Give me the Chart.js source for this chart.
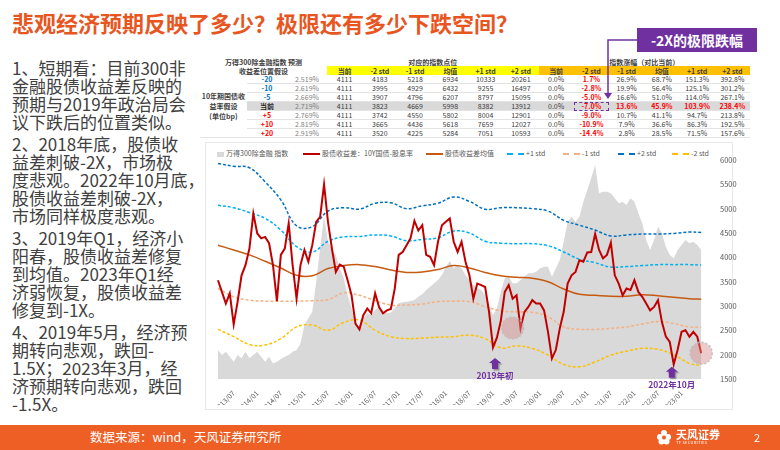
<!DOCTYPE html>
<html>
<head>
<meta charset="utf-8">
<script src="https://cdn.jsdelivr.net/npm/chart.js@4.4.0/dist/chart.umd.min.js"></script>
<style>
body{margin:0;width:780px;height:450px;position:relative;overflow:hidden;background:#fff;font-family:"Noto Sans CJK SC","Noto Sans",sans-serif;}
.title{position:absolute;left:12px;top:9px;font-size:22px;line-height:26px;font-weight:bold;color:#E8561F;white-space:nowrap;}
.notes{position:absolute;left:12px;top:59px;font-size:17px;line-height:18px;color:#404040;white-space:nowrap;}
.notes p{margin:0 0 4px 0;}
#tbl{position:absolute;left:200px;top:57px;border-collapse:collapse;table-layout:fixed;font-size:7px;line-height:8px;color:#404040;}
#tbl td{padding:0;text-align:center;white-space:nowrap;overflow:visible;border-bottom:1px solid #E4E4E4;}
#tbl tr.h td{height:9px;font-weight:bold;border-bottom:none;}
#tbl tr.d td{height:7px;}
.yl{background:#FFFF00;}
.og{background:#FFC000;}
tr.cur td{background:#D9D9D9;}
.redb{color:#FF0000;font-weight:bold;}
.callout{position:absolute;left:637px;top:28px;width:120px;height:24px;background:#7030A0;color:#fff;font-size:14px;line-height:24px;font-weight:bold;text-align:center;}
.frame{position:absolute;left:205px;top:142px;width:528px;height:268px;border:1px solid #E8E8E8;box-sizing:border-box;}
.lg{position:absolute;top:148px;font-size:7px;line-height:10px;color:#595959;white-space:nowrap;}
.mk{display:inline-block;vertical-align:middle;margin-right:2px;}
#wrap{position:absolute;left:205px;top:140px;width:555px;height:265px;}
.foot{position:absolute;left:0;top:425px;width:780px;height:25px;background:#EE5F26;}
.src{position:absolute;left:90px;top:428px;font-size:12.5px;line-height:18px;color:#fff;white-space:nowrap;}
.logo{position:absolute;left:676px;top:428px;color:#fff;font-size:11px;font-weight:bold;line-height:12px;white-space:nowrap;}
.logo small{display:block;font-size:4px;line-height:5px;font-weight:normal;letter-spacing:0.3px;}
.pg{position:absolute;left:754px;top:429px;font-size:11px;line-height:16px;color:#fff;}
svg.ov{position:absolute;left:0;top:0;}
</style>
</head>
<body>
<div class="title">悲观经济预期反映了多少？极限还有多少下跌空间？</div>

<div class="notes">
<p>1、短期看：目前300非<br>金融股债收益差反映的<br>预期与2019年政治局会<br>议下跌后的位置类似。</p>
<p>2、2018年底，股债收<br>益差刺破-2X，市场极<br>度悲观。2022年10月底，<br>股债收益差刺破-2X，<br>市场同样极度悲观。</p>
<p>3、2019年Q1，经济小<br>阳春，股债收益差修复<br>到均值。2023年Q1经<br>济弱恢复，股债收益差<br>修复到-1X。</p>
<p>4、2019年5月，经济预<br>期转向悲观，跌回-<br>1.5X；2023年3月，经<br>济预期转向悲观，跌回<br>-1.5X。</p>
</div>

<table id="tbl"></table>
<div class="callout">-2X的极限跌幅</div>

<div class="frame"></div>
<div id="legend"></div>
<div id="wrap"><canvas id="c" width="555" height="265"></canvas></div>

<div class="foot"></div>
<div class="src">数据来源：wind，天风证券研究所</div>
<svg class="ov" width="780" height="450">
  <polyline points="637,40 608,40 608,95" fill="none" stroke="#7030A0" stroke-width="1.5"/>
  <path d="M604,93 L612,93 L608,99 z" fill="#7030A0"/>
  <g transform="translate(664,437)">
    <circle cx="0" cy="-4" r="3" fill="#fff"/><circle cx="-4" cy="0" r="3" fill="#fff"/>
    <circle cx="4" cy="0" r="3" fill="#fff"/><circle cx="-2.5" cy="4.5" r="3" fill="#fff"/>
    <circle cx="2.5" cy="4.5" r="3" fill="#fff"/><circle cx="0" cy="0.5" r="2" fill="#EE5F26"/>
  </g>
</svg>
<div class="logo">天风证券<small>TF SECURITIES</small></div>
<div class="pg">2</div>

<script>
// ---- table data ----
const bpSteps = ['-20', '-10', '-5', '当前', '+5', '+10', '+20'];
const bondYields = ['2.519%', '2.619%', '2.669%', '2.719%', '2.769%', '2.819%', '2.919%'];
const colNames = ['当前', '-2 std', '-1 std', '均值', '+1 std', '+2 std'];
const indexPoints = [
  [4111, 4183, 5218, 6934, 10333, 20261],
  [4111, 3995, 4929, 6432, 9255, 16497],
  [4111, 3907, 4796, 6207, 8797, 15095],
  [4111, 3823, 4669, 5998, 8382, 13912],
  [4111, 3742, 4550, 5802, 8004, 12901],
  [4111, 3665, 4436, 5618, 7659, 12027],
  [4111, 3520, 4225, 5284, 7051, 10593]
];
const indexChange = [
  ['0.0%', '1.7%', '26.9%', '68.7%', '151.3%', '392.8%'],
  ['0.0%', '-2.8%', '19.9%', '56.4%', '125.1%', '301.2%'],
  ['0.0%', '-5.0%', '16.6%', '51.0%', '114.0%', '267.1%'],
  ['0.0%', '-7.0%', '13.6%', '45.9%', '103.9%', '238.4%'],
  ['0.0%', '-9.0%', '10.7%', '41.1%', '94.7%', '213.8%'],
  ['0.0%', '-10.9%', '7.9%', '36.6%', '86.3%', '192.5%'],
  ['0.0%', '-14.4%', '2.8%', '28.5%', '71.5%', '157.6%']
];

// ---- chart data ----
const firstMonth = '2013/03';
// 万得300除金融指数, monthly
const indexLevel = [2095,1993,2061,1958,1856,1993,1924,2061,1924,1993,
  2061,1958,1856,1958,1821,1856,1910,1958,1993,2061,
  2095,2232,2609,2746,2883,3500,4185,4850,4322,4150,
  4048,3774,3568,3226,2952,2643,2541,2746,2849,2815,
  2917,2986,2883,2849,2869,2952,3054,3075,3089,3102,
  3123,3191,3239,3328,3397,3465,3534,3637,3808,3924,
  3774,3842,3774,3637,3534,3431,3363,3328,3226,3020,
  2815,2952,3294,3568,3603,3465,3465,3534,3603,3671,
  3671,3705,3774,3808,3808,3603,3774,3945,4322,4733,
  4835,4733,4835,5144,5383,5623,5900,5315,5349,5349,
  5315,5212,5109,5144,5075,5212,5144,4904,4698,4356,
  4150,4356,4630,4493,4219,4048,3979,4150,4253,4356,
  4287,4322,4253,4150];
// 股债收益差 (10Y国债-股息率, %), monthly
const yieldGap = [0.53,0.29,0.05,0.26,-0.38,0.09,0.63,0.84,1.18,1.90,
  1.49,1.39,1.42,1.29,0.84,0.10,1.05,1.18,1.70,0.84,
  0.15,0.84,1.15,0.91,1.25,1.73,1.83,2.50,1.73,1.18,
  0.70,0.85,0.81,0.53,0.22,-0.36,-0.48,-0.19,-0.05,-0.15,
  0.26,-0.02,-0.15,-0.09,-0.06,0.36,1.05,1.11,1.25,1.39,
  1.75,1.55,1.66,1.05,1.01,0.84,1.32,1.66,1.73,1.80,
  1.32,1.11,1.32,0.91,0.63,0.15,0.46,0.43,0.39,-0.12,
  -0.85,-0.65,-0.30,0.29,0.43,0.15,0.22,-0.46,-0.12,-0.02,
  0.12,0.05,0.05,-0.09,-0.53,-1.08,-0.90,-0.46,-0.12,0.46,
  0.63,0.70,0.94,0.91,1.10,1.11,1.48,1.15,0.98,1.05,
  1.30,0.63,0.46,0.22,0.36,0.33,0.53,0.29,0.19,0.05,
  -0.09,-0.02,0.12,-0.33,-0.63,-0.74,-1.20,-0.90,-0.53,-0.50,
  -0.63,-0.53,-0.63,-0.97];

// mean / std bands, sampled every 4 months
const bandMonths = ['2013/03','2013/07','2013/11','2014/03','2014/07','2014/11','2015/03','2015/07',
  '2015/11','2016/03','2016/07','2016/11','2017/03','2017/07','2017/11','2018/03',
  '2018/07','2018/11','2019/03','2019/07','2019/11','2020/03','2020/07','2020/11',
  '2021/03','2021/07','2021/11','2022/03','2022/07','2022/11','2023/03','2023/06'];
const gapMean = [1.25,1.15,1.05,0.92,0.78,0.63,0.62,0.77, 0.83,0.85,0.81,0.74,0.69,0.70,0.75,0.83,
  0.78,0.69,0.62,0.59,0.57,0.50,0.35,0.24, 0.22,0.20,0.20,0.23,0.21,0.18,0.15,0.14];
const plus1 = [2.07,2.02,1.92,1.80,1.56,1.22,1.11,1.33, 1.42,1.43,1.46,1.44,1.34,1.37,1.40,1.54,
  1.50,1.33,1.29,1.28,1.28,1.24,1.11,0.96, 0.89,0.80,0.81,0.83,0.85,0.85,0.85,0.84];
const minus1 = [0.36,0.19,0.12,0.10,0.10,0.10,0.11,0.13, 0.27,0.22,0.11,0.02,0.02,0.04,0.09,0.10,
  0.09,-0.01,-0.10,-0.12,-0.13,-0.22,-0.43,-0.48, -0.48,-0.46,-0.43,-0.37,-0.32,-0.36,-0.43,-0.44];
const plus2 = [2.93,2.87,2.84,2.55,2.18,1.65,1.63,1.95, 2.02,1.99,2.11,2.12,2.00,2.06,2.11,2.24,
  2.15,1.99,2.02,2.02,2.00,1.95,1.76,1.66, 1.56,1.44,1.46,1.48,1.48,1.49,1.52,1.51];
const minus2 = [-0.48,-0.63,-0.79,-0.80,-0.67,-0.43,-0.39,-0.50, -0.34,-0.29,-0.50,-0.63,-0.67,-0.66,-0.64,-0.63,
  -0.60,-0.67,-0.86,-0.82,-0.87,-1.01,-1.20,-1.25, -1.15,-1.01,-0.93,-0.87,-0.89,-1.00,-1.18,-1.22];

const xTicks = ['2013/07','2014/01','2014/07','2015/01','2015/07','2016/01','2016/07','2017/01','2017/07','2018/01',
  '2018/07','2019/01','2019/07','2020/01','2020/07','2021/01','2021/07','2022/01','2022/07','2023/01'];
const yTicks = [1500, 2000, 2500, 3000, 3500, 4000, 4500, 5000, 5500, 6000];

// arrow tips sit just under the two lows
const callouts = [{ text: '2019年初', month: '2019/01', tip: -1.07 }, { text: '2022年10月', month: '2022/10', tip: -1.25 }];
const rings = [{ month: '2019/06', gap: -0.45 }, { month: '2023/06', gap: -0.97 }];

// ---- build table ----
let html = '<colgroup><col style="width:47px"><col style="width:40px"><col style="width:40px">';
for (let i = 0; i < 12; i++) html += '<col style="width:35.25px">';
html += '</colgroup>';
html += '<tr class="h"><td colspan="3">万得300除金融指数 预测</td><td colspan="6">对应的指数点位</td><td colspan="6">指数涨幅（对比当前）</td></tr>';
html += '<tr class="h"><td colspan="3">收益差位置假设</td>' +
  colNames.map(c => '<td class="yl">' + c + '</td>').join('') +
  colNames.map(c => '<td class="og">' + c + '</td>').join('') + '</tr>';
bpSteps.forEach((bp, r) => {
  const cur = bp === '当前';
  let row = '<tr class="d' + (cur ? ' cur' : '') + '">';
  if (r === 0) row += '<td rowspan="7" style="background:#fff;font-weight:bold;color:#404040;line-height:10px">10年期国债收<br>益率假设<br>(单位bp)</td>';
  const col = r < 3 ? '#0070C0' : (cur ? '#262626' : '#FF0000');
  row += '<td style="color:' + col + ';font-weight:bold">' + bp + '</td>';
  row += '<td style="color:#7F7F7F">' + bondYields[r] + '</td>';
  indexPoints[r].forEach(v => { row += '<td>' + v + '</td>'; });
  indexChange[r].forEach((v, k) => {
    let cls = '';
    if (k === 1 || (cur && k > 1)) cls = ' class="redb"';
    let st = '';
    if (cur && k === 1) st = ' style="outline:1px dashed #7030A0;outline-offset:-1px"';
    row += '<td' + cls + st + '>' + v + '</td>';
  });
  html += row + '</tr>';
});
document.getElementById('tbl').innerHTML = html;

// ---- legend ----
const legendItems = [
  { x: 217, text: '万得300除金融 指数', box: '#D9D9D9' },
  { x: 303, text: '股债收益差：10Y国债-股息率', line: '#C00000', w: 2 },
  { x: 426, text: '股债收益差均值', line: '#C55A11', w: 2 },
  { x: 507, text: '+1 std', line: '#00B0F0', dash: true },
  { x: 563, text: '-1 std', line: '#F4B183', dash: true },
  { x: 618, text: '+2 std', line: '#0070C0', dash: true },
  { x: 672, text: '-2 std', line: '#FFC000', dash: true }
];
const lg = document.getElementById('legend');
legendItems.forEach(it => {
  const d = document.createElement('div');
  d.className = 'lg';
  d.style.left = it.x + 'px';
  let mk;
  if (it.box) mk = '<span class="mk" style="width:7px;height:5px;background:' + it.box + '"></span>';
  else mk = '<span class="mk" style="width:17px;height:0;border-top:' + (it.w || 2) + 'px ' + (it.dash ? 'dashed ' : 'solid ') + it.line + '"></span>';
  d.innerHTML = mk + it.text;
  lg.appendChild(d);
});

// ---- chart ----
const mi = s => { const [y, m] = s.split('/').map(Number); return (y - 2013) * 12 + (m - 1); };
const m0 = mi(firstMonth);
const series = arr => arr.map((v, i) => ({ x: m0 + i, y: v }));
const bands = arr => arr.map((v, i) => ({ x: mi(bandMonths[i]), y: v }));

const dash = (label, data, color, order) => ({
  label, data: bands(data), borderColor: color, borderWidth: 1.5, borderDash: [3, 2],
  pointRadius: 0, tension: 0.4, yAxisID: 'g', order
});

const marks = {
  id: 'marks',
  afterDatasetsDraw(chart) {
    const { ctx, scales } = chart;
    const x = scales.x, g = scales.g;
    ctx.save();
    rings.forEach(r => {
      const cx = x.getPixelForValue(mi(r.month)), cy = g.getPixelForValue(r.gap);
      ctx.beginPath();
      ctx.arc(cx, cy, 11, 0, Math.PI * 2);
      ctx.fillStyle = 'rgba(214,140,140,0.45)';
      ctx.fill();
      ctx.setLineDash([2, 2]);
      ctx.lineWidth = 1.5;
      ctx.strokeStyle = 'rgba(190,190,190,0.9)';
      ctx.stroke();
    });
    ctx.setLineDash([]);
    callouts.forEach(c => {
      const cx = x.getPixelForValue(mi(c.month)) + 2;
      const tip = g.getPixelForValue(c.tip);
      ctx.shadowColor = 'rgba(0,0,0,0.35)';
      ctx.shadowOffsetX = 1.5; ctx.shadowOffsetY = 1.5; ctx.shadowBlur = 1;
      ctx.beginPath();
      ctx.moveTo(cx, tip);
      ctx.lineTo(cx + 6, tip + 5);
      ctx.lineTo(cx + 3, tip + 5);
      ctx.lineTo(cx + 3, tip + 11);
      ctx.lineTo(cx - 3, tip + 11);
      ctx.lineTo(cx - 3, tip + 5);
      ctx.lineTo(cx - 6, tip + 5);
      ctx.closePath();
      ctx.fillStyle = '#7030A0';
      ctx.fill();
      ctx.shadowColor = 'transparent';
      ctx.font = 'bold 8.5px "Noto Sans CJK SC"';
      ctx.textAlign = 'center';
      ctx.textBaseline = 'middle';
      ctx.fillText(c.text, cx, tip + 18);
    });
    ctx.restore();
  }
};

new Chart(document.getElementById('c'), {
  type: 'line',
  data: {
    datasets: [
      { label: '股债收益差：10Y国债-股息率', data: series(yieldGap), borderColor: '#C00000', borderWidth: 2,
        pointRadius: 0, tension: 0, yAxisID: 'g', order: 1 },
      { label: '股债收益差均值', data: bands(gapMean), borderColor: '#C55A11', borderWidth: 1.5,
        pointRadius: 0, tension: 0.4, yAxisID: 'g', order: 2 },
      dash('+1 std', plus1, '#00B0F0', 3),
      dash('-1 std', minus1, '#F4B183', 3),
      dash('+2 std', plus2, '#0070C0', 3),
      dash('-2 std', minus2, '#FFC000', 3),
      { label: '万得300除金融 指数', data: series(indexLevel), borderWidth: 0, backgroundColor: '#D9D9D9',
        fill: 'start', pointRadius: 0, tension: 0, yAxisID: 'y', order: 10 }
    ]
  },
  options: {
    responsive: false,
    animation: false,
    layout: { padding: { left: 12, top: 20, right: 0, bottom: 0 } },
    plugins: { legend: { display: false }, tooltip: { enabled: false } },
    scales: {
      x: {
        type: 'linear', min: 1.75, max: 125.2,
        grid: { display: false }, border: { display: false },
        afterBuildTicks: s => { s.ticks = xTicks.map(t => ({ value: mi(t) })); },
        afterFit: s => { s.height = 26; },
        ticks: {
          autoSkip: false, minRotation: 45, maxRotation: 45, padding: 2,
          color: '#595959', font: { size: 7, family: 'Noto Sans CJK SC' },
          callback: v => xTicks[xTicks.findIndex(t => mi(t) === v)]
        }
      },
      y: {
        position: 'right', min: 1500, max: 6000,
        grid: { display: false }, border: { display: false },
        afterBuildTicks: s => { s.ticks = yTicks.map(v => ({ value: v })); },
        afterFit: s => { s.width = 58; },
        ticks: { padding: 10, color: '#595959', font: { size: 7.5, family: 'Noto Sans CJK SC' },
          callback: v => String(v) }
      },
      g: { position: 'left', display: false, min: -1.5, max: 3.0 }
    }
  },
  plugins: [marks]
});
</script>
</body>
</html>
